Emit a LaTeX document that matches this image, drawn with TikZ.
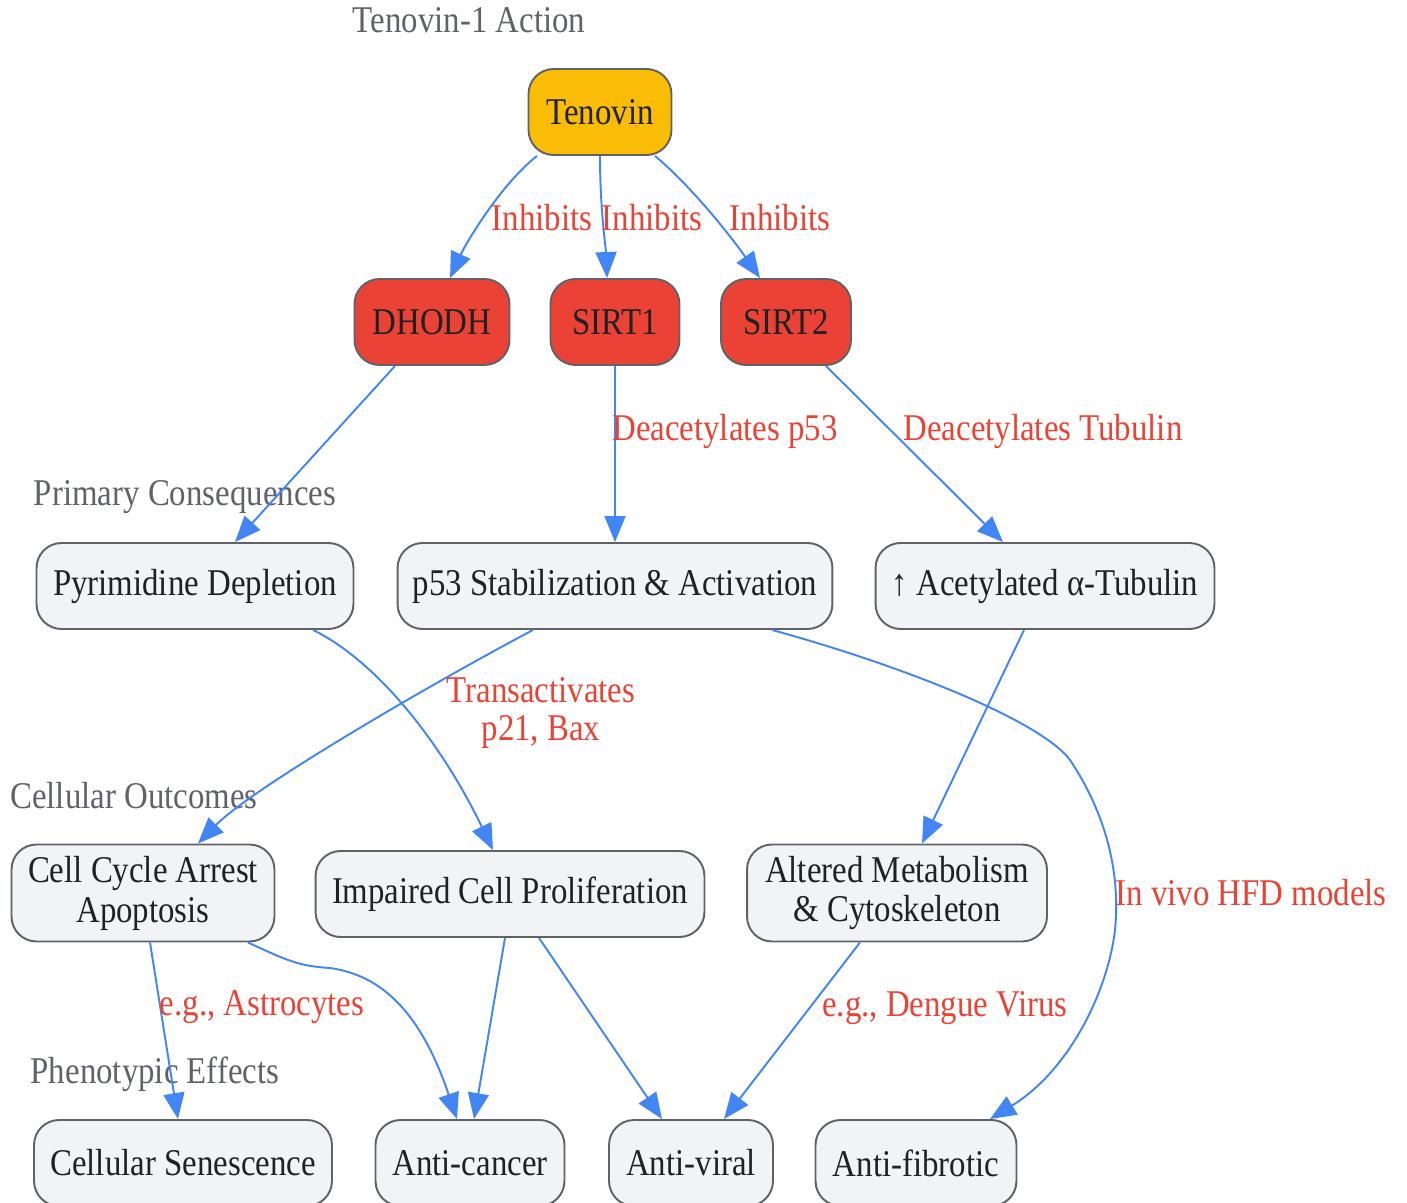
\documentclass[tikz,border=0pt]{standalone}
\usepackage{fontspec}
\setmainfont{Liberation Serif}[FakeStretch=0.87]
\usetikzlibrary{arrows.meta,calc}

\definecolor{drugyellow}{HTML}{FBBC05}
\definecolor{targetred}{HTML}{EA4335}
\definecolor{boxgray}{HTML}{F1F3F4}
\definecolor{boxline}{HTML}{5F6368}
\definecolor{boxtext}{HTML}{202124}
\definecolor{flowblue}{HTML}{4285F4}
\definecolor{labelred}{HTML}{EA4335}
\definecolor{groupgray}{HTML}{5F6368}

\tikzset{
	box/.style={draw=boxline, line width=1.1pt, rounded corners=0.5cm, fill=boxgray,
		text=boxtext, minimum height=1.72cm, inner xsep=0.2cm, align=center},
	tallbox/.style={box, minimum height=1.94cm},
	target/.style={box, fill=targetred},
	drug/.style={box, fill=drugyellow},
	flow/.style={draw=flowblue, line width=1.1pt, -{Triangle[length=0.52cm,width=0.42cm]}},
	edgelabel/.style={text=labelred, anchor=base},
	grouplabel/.style={text=groupgray, anchor=base},
}

\begin{document}
\begin{tikzpicture}[x=0.02cm, y=-0.02cm, font=\fontsize{21.5}{22.7}\selectfont]
	
	\useasboundingbox (0,0) rectangle (1407,1203);
	
	% Nhãn các nhóm
	\node[grouplabel] (gaction) at (469,33) {Tenovin-1 Action};
	\node[grouplabel] (gprimary) at (185,505) {Primary Consequences};
	\node[grouplabel] (gcellular) at (134,808) {Cellular Outcomes};
	\node[grouplabel] (gpheno) at (155,1083) {Phenotypic Effects};
	
	% Thuốc và đích tác dụng
	\node[drug, minimum width=2.86cm] (tenovin) at (600,112) {Tenovin};
	\node[target, minimum width=3.1cm] (dhodh) at (432,322) {DHODH};
	\node[target, minimum width=2.58cm] (sirt1) at (615,322) {SIRT1};
	\node[target, minimum width=2.6cm] (sirt2) at (786,322) {SIRT2};
	
	% Hệ quả ban đầu
	\node[box, minimum width=6.34cm] (pyrimidine) at (195,586) {Pyrimidine Depletion};
	\node[box, minimum width=8.7cm] (p53) at (615,586) {p53 Stabilization \& Activation};
	\node[box, minimum width=6.78cm] (tubulin) at (1045,586) {↑ Acetylated α-Tubulin};
	
	% Kết cục tế bào
	\node[tallbox, minimum width=5.26cm] (arrest) at (143,893) {Cell Cycle Arrest\\Apoptosis};
	\node[box, minimum width=7.78cm] (prolif) at (510,894) {Impaired Cell Proliferation};
	\node[tallbox, minimum width=6cm] (metab) at (897,893) {Altered Metabolism\\\& Cytoskeleton};
	
	% Hiệu ứng kiểu hình
	\node[box, minimum width=5.96cm] (senescence) at (183,1163) {Cellular Senescence};
	\node[box, minimum width=3.78cm] (cancer) at (470,1163) {Anti-cancer};
	\node[box, minimum width=3.28cm] (viral) at (691,1163) {Anti-viral};
	\node[box, minimum width=4.02cm] (fibrotic) at (916,1163) {Anti-fibrotic};
	
	% Mũi tên
	\draw[flow] ($(tenovin.south)+(-63,0)$) .. controls (500,185) and (465,245) .. ($(dhodh.north)+(18,0)$);
	\draw[flow] (tenovin.south) .. controls (600,210) and (606,250) .. ($(sirt1.north)+(-8,0)$);
	\draw[flow] ($(tenovin.south)+(55,0)$) .. controls (690,185) and (730,235) .. ($(sirt2.north)+(-26,0)$);
	\draw[flow] ($(dhodh.south)+(-37,0)$) -- ($(pyrimidine.north)+(40,0)$);
	\draw[flow] (sirt1.south) -- (p53.north);
	\draw[flow] ($(sirt2.south)+(40,0)$) -- ($(tubulin.north)+(-42,0)$);
	\draw[flow] ($(pyrimidine.south)+(118,0)$) .. controls (375,660) and (440,740) .. ($(prolif.north)+(-17,0)$);
	\draw[flow] ($(p53.south)+(-82,0)$) .. controls (420,690) and (250,790) .. ($(arrest.north)+(55,0)$);
	\draw[flow] ($(p53.south)+(157,0)$) .. controls (900,665) and (1040,720) .. (1070,760)
		.. controls (1110,820) and (1120,880) .. (1115,930)
		.. controls (1108,990) and (1070,1070) .. ($(fibrotic.north)+(74,0)$);
	\draw[flow] ($(tubulin.south)+(-21,0)$) -- ($(metab.north)+(25,0)$);
	\draw[flow] ($(arrest.south)+(7,0)$) -- ($(senescence.north)+(-5,0)$);
	\draw[flow] ($(arrest.south)+(105,0)$) .. controls (290,962) and (300,966) .. (330,968)
		.. controls (380,975) and (420,1010) .. ($(cancer.north)+(-13,0)$);
	\draw[flow] ($(prolif.south)+(-5,0)$) -- ($(cancer.north)+(4,0)$);
	\draw[flow] ($(prolif.south)+(29,0)$) -- ($(viral.north)+(-29,0)$);
	\draw[flow] ($(metab.south)+(-37,0)$) -- ($(viral.north)+(33,0)$);
	
	% Nhãn mũi tên
	\node[edgelabel] (linh1) at (542,230) {Inhibits};
	\node[edgelabel] (linh2) at (652,230) {Inhibits};
	\node[edgelabel] (linh3) at (780,230) {Inhibits};
	\node[edgelabel] (ldeacp53) at (725,440) {Deacetylates p53};
	\node[edgelabel] (ldeactub) at (1043,440) {Deacetylates Tubulin};
	\node[text=labelred, align=center, font=\fontsize{21.5}{21.6}\selectfont] (ltrans) at (541,713) {Transactivates\\p21, Bax};
	\node[edgelabel] (lhfd) at (1251,905) {In vivo HFD models};
	\node[edgelabel] (lastro) at (262,1015) {e.g., Astrocytes};
	\node[edgelabel] (ldengue) at (945,1016) {e.g., Dengue Virus};
	
\end{tikzpicture}
\end{document}
